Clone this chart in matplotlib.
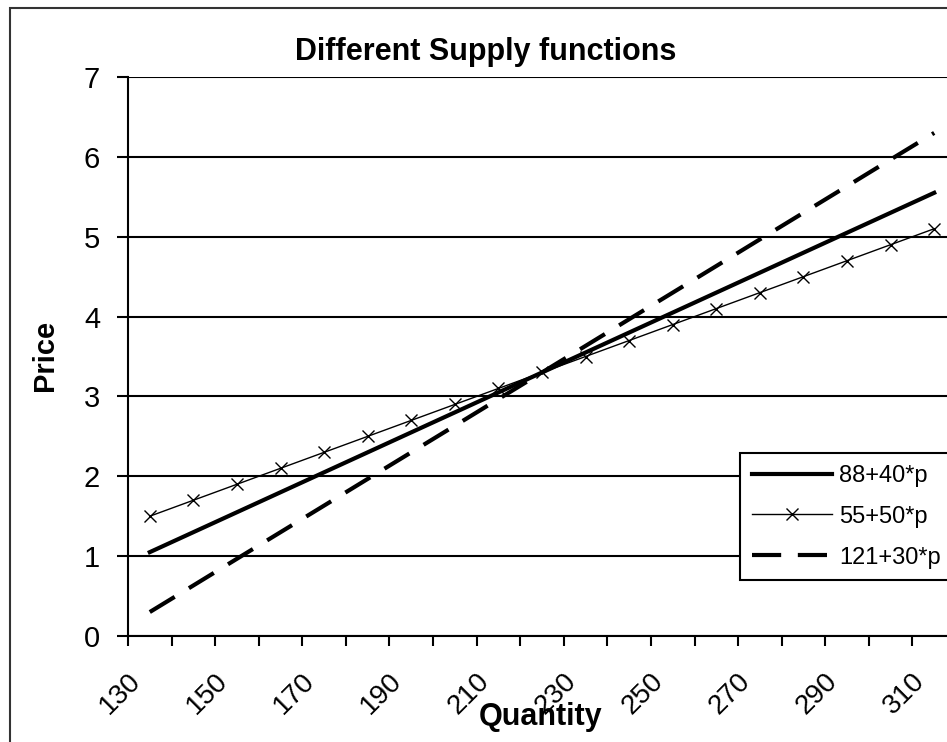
import matplotlib
matplotlib.use("Agg")
import matplotlib.pyplot as plt
import matplotlib.transforms as mtransforms
from matplotlib.patches import Rectangle

plt.rcParams['font.family'] = ['Liberation Sans', 'DejaVu Sans']

# data: quantity categories and price for each supply function
quantity = [130, 140, 150, 160, 170, 180, 190, 200, 210, 220,
            230, 240, 250, 260, 270, 280, 290, 300, 310]
price_88_40 = [1.05, 1.3, 1.55, 1.8, 2.05, 2.3, 2.55, 2.8, 3.05, 3.3,
               3.55, 3.8, 4.05, 4.3, 4.55, 4.8, 5.05, 5.3, 5.55]
price_55_50 = [1.5, 1.7, 1.9, 2.1, 2.3, 2.5, 2.7, 2.9, 3.1, 3.3,
               3.5, 3.7, 3.9, 4.1, 4.3, 4.5, 4.7, 4.9, 5.1]
price_121_30 = [0.3, 0.633, 0.967, 1.3, 1.633, 1.967, 2.3, 2.633, 2.967, 3.3,
                3.633, 3.967, 4.3, 4.633, 4.967, 5.3, 5.633, 5.967, 6.3]
series_labels = ["88+40*p", "55+50*p", "121+30*p"]
y_ticks = [0, 1, 2, 3, 4, 5, 6, 7]

W, H = 947, 742
fig = plt.figure(figsize=(W / 100, H / 100), dpi=100)

# chart area border (cropped on right/bottom like the original)
fig.patches.append(Rectangle((10 / W, -0.1), 1.2, 1 - 8 / H + 0.1,
                             transform=fig.transFigure, fill=False,
                             edgecolor='#333333', linewidth=1.5))

ax = fig.add_axes([128 / W, 1 - 636 / H, 828 / W, 559 / H])
idx = list(range(len(quantity)))

ax.plot(idx, price_88_40, color='black', linewidth=3, label=series_labels[0])
ax.plot(idx, price_55_50, color='black', linewidth=1, marker='x',
        markersize=9, markeredgewidth=1, label=series_labels[1])
ax.plot(idx, price_121_30, color='black', linewidth=3, dashes=(7, 4),
        label=series_labels[2])

ax.set_xlim(-0.5, len(quantity) - 0.5)
ax.set_ylim(0, 7)
ax.set_yticks(y_ticks)
ax.yaxis.grid(True, color='black', linewidth=1.5)
ax.set_axisbelow(True)

# labels every other category, tick marks at category boundaries
ax.set_xticks(idx[::2])
ax.set_xticklabels([str(q) for q in quantity[::2]], rotation=45,
                   ha='right', va='top')
ax.set_xticks([i - 0.5 for i in range(len(quantity) + 1)], minor=True)
ax.tick_params(axis='x', which='major', length=0, pad=23, labelsize=20)
ax.tick_params(axis='x', which='minor', length=7, width=1.5, direction='out')
ax.tick_params(axis='y', length=8, width=1.5, pad=12, labelsize=21)
shift = mtransforms.ScaledTranslation(-4 / 100, 0, fig.dpi_scale_trans)
for lbl in ax.get_xticklabels():
    lbl.set_transform(lbl.get_transform() + shift)

for s in ['top', 'right']:
    ax.spines[s].set_visible(False)
for s in ['left', 'bottom']:
    ax.spines[s].set_linewidth(1.5)

fig.text(486 / W, 1 - 52 / H, "Different Supply functions", ha='center',
         va='center', fontsize=22, fontweight='bold')
fig.text(45 / W, 1 - 355 / H, "Price", ha='center', va='center',
         rotation=90, fontsize=21, fontweight='bold')
fig.text(541 / W, 1 - 717 / H, "Quantity", ha='center', va='center',
         fontsize=22, fontweight='bold')

leg = ax.legend(loc='upper left', bbox_to_anchor=(740 / W, 1 - 453 / H),
                bbox_transform=fig.transFigure, fontsize=17, frameon=True,
                fancybox=False, edgecolor='black', framealpha=1,
                borderaxespad=0, borderpad=0.5, handlelength=3.4,
                handletextpad=0.3, labelspacing=0.8, numpoints=1)
leg.get_frame().set_linewidth(1.5)

plt.savefig("out.png", dpi=100)
